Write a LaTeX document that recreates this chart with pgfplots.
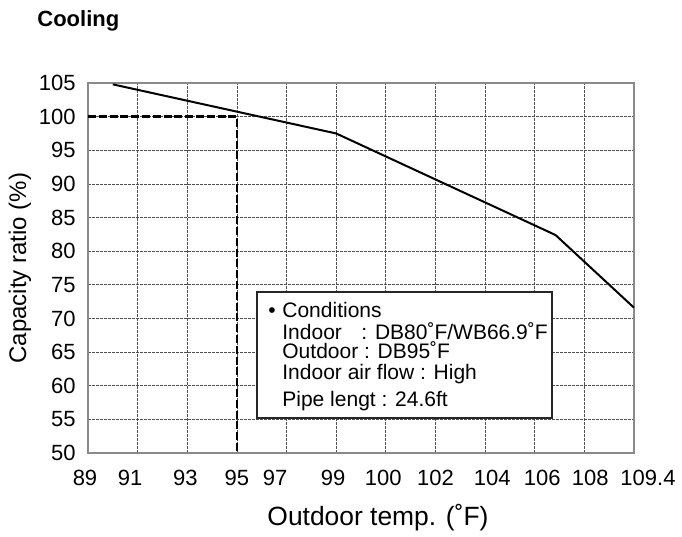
\documentclass[border=0pt]{standalone}
\usepackage{fontspec}
\setmainfont{Liberation Sans}
\usepackage{pgfplots}
\pgfplotsset{compat=1.18}

\definecolor{gridgray}{HTML}{505050}
\definecolor{framegray}{HTML}{8A8A8A}

\begin{document}
\begin{tikzpicture}
\useasboundingbox (0,0) rectangle (341pt,268.5pt);
\begin{axis}[
    at={(44pt,42pt)}, anchor=south west,
    scale only axis,
    width=273pt, height=185pt,
    xmin=0, xmax=11,
    ymin=50, ymax=105,
    % labels sit a little off the grid lines, as in the source chart
    xtick={0,0.85,1.96,3.0,3.77,4.94,5.95,7.0,8.145,9.15,10.12,11},
    xticklabels={\hspace*{-3pt}89,91,93,95,97,99,100,102,104,106,108,\hspace*{14pt}109.4},
    minor xtick={1,...,10},
    ytick={50,55,...,105},
    xmajorgrids=false, xminorgrids=true, ymajorgrids=true,
    major grid style={gridgray, line width=0.4pt, dash pattern=on 1.3pt off 0.7pt},
    minor grid style={gridgray, line width=0.4pt, dash pattern=on 1.3pt off 0.7pt},
    axis line style={framegray, line width=0.8pt},
    major tick length=0pt, minor tick length=0pt,
    tick label style={font=\fontsize{11}{13}\selectfont},
    /pgf/number format/assume math mode=true,
    xticklabel style={inner sep=0pt, anchor=north, yshift=-8.5pt},
    yticklabel style={inner sep=0pt, anchor=east, xshift=-6pt},
    clip=false,
]
% reference point: 95 F -> 100 %
\addplot[black, line width=1.4pt, dash pattern=on 4pt off 1.4pt]
    coordinates {(0,100) (3,100) (3,50)};
% capacity curve
\addplot[black, line width=1pt, mark=none]
    coordinates {(0.5,104.8) (5,97.5) (9.42,82.4) (11,71.6)};
\end{axis}

% conditions box
\draw[black!85, line width=1.1pt, fill=white] (128.5pt,59.5pt) rectangle (276pt,122.5pt);
\begin{scope}[every node/.style={inner sep=0pt, anchor=base west, font=\fontsize{10.5}{12}\selectfont}]
  \node at (134pt,110pt) {•};
  \node at (141pt,110pt) {Conditions};
  \node at (141pt,99pt) {Indoor};
  \node at (180.5pt,99pt) {: DB80˚F/WB66.9˚F};
  \node at (141pt,89pt) {Outdoor : DB95˚F};
  \node at (141pt,78.5pt) {Indoor air flow : High};
  \node at (141pt,65.5pt) {Pipe lengt : 24.6ft};
\end{scope}

% title and axis titles
\node[anchor=base west, inner sep=0pt, font=\bfseries\fontsize{11}{13}\selectfont] at (18.5pt,255pt) {Cooling};
\node[rotate=90, inner sep=0pt, font=\fontsize{12}{14}\selectfont] at (10pt,134.5pt) {Capacity ratio (\%)};
\node[anchor=base, inner sep=0pt, font=\fontsize{13.2}{15}\selectfont] at (189pt,5.5pt) {Outdoor temp. (˚F)};
\end{tikzpicture}
\end{document}
